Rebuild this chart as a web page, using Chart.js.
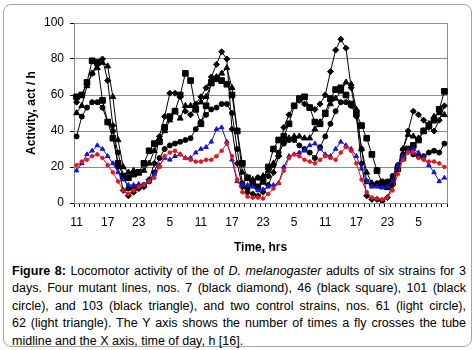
<!DOCTYPE html>
<html>
<head>
<meta charset="utf-8">
<script src="https://cdn.jsdelivr.net/npm/chart.js@4/dist/chart.umd.min.js"></script>
<style>
  body { margin: 0; background: #fff; font-family: "Liberation Sans", Arial, sans-serif; }
  #frame { position: absolute; left: 3px; top: 4px; width: 467px; height: 341px; border: 1px solid #a6a6a6; border-radius: 8px; }
  #plot { position: absolute; left: 0; top: 0; }
  #cap { position: absolute; left: 8px; top: 258px; width: 454px; font-size: 12.5px; line-height: 17.4px; color: #000; }
  #cap div { white-space: nowrap; text-align: justify; text-align-last: justify; }
  #cap div.last { text-align: left; text-align-last: left; }
</style>
</head>
<body>
<div id="frame">
  <canvas id="plot" width="467" height="258"></canvas>
  <div id="cap">
    <div><b>Figure 8:</b> Locomotor activity of the of <i>D. melanogaster</i> adults of six strains for 3</div>
    <div>days. Four mutant lines, nos. 7 (black diamond), 46 (black square), 101 (black</div>
    <div>circle), and 103 (black triangle), and two control strains, nos. 61 (light circle),</div>
    <div>62 (light triangle). The Y axis shows the number of times a fly crosses the tube</div>
    <div class="last">midline and the X axis, time of day, h [16].</div>
  </div>
</div>
<script>
// hour of day for each hourly reading, 3 days from 11 h
const hours = [11,12,13,14,15,16,17,18,19,20,21,22,23,0,1,2,3,4,5,6,7,8,9,10,
               11,12,13,14,15,16,17,18,19,20,21,22,23,0,1,2,3,4,5,6,7,8,9,10,
               11,12,13,14,15,16,17,18,19,20,21,22,23,0,1,2,3,4,5,6,7,8,9,10];

// activity, act / h
const line7 = [56,60,66,72,78,80,68,43,20,7,4,6, 8,9,13,22,37,48,61,61,59,51,49,55,
               59,64,70,77,84,80,41,22,9,6,5,4, 6,10,17,26,42,49,54,57,55,53,52,55,
               60,73,85,91,86,64,48,22,4,2,2,1, 3,10,19,30,40,51,49,46,42,40,46,54];
const line46 = [59,60,67,79,78,57,45,36,22,15,14,16, 17,22,29,33,34,42,48,51,60,72,68,52,
                44,54,67,69,68,66,60,40,22,14,11,9, 12,20,30,35,37,44,54,58,59,53,45,44,
                50,58,63,64,60,55,50,43,36,27,18,11, 9,12,19,25,30,32,35,40,43,46,52,62];
const line101 = [37,48,53,56,56,53,45,40,28,15,8,8, 9,10,12,17,25,30,32,33,34,35,36,41,
                 45,49,52,53,55,55,50,30,11,8,12,14, 14,15,21,28,33,35,35,32,30,28,25,31,
                 37,44,51,56,56,54,49,30,12,10,11,12, 12,15,21,27,29,27,26,26,28,29,28,33];
const line103 = [50,54,65,72,75,78,76,59,35,20,17,18, 17,18,22,29,36,40,46,51,47,54,54,54,
                 56,59,66,70,72,75,64,40,17,14,13,14, 15,18,22,27,34,36,37,37,36,36,41,45,
                 49,55,58,62,67,66,52,30,17,11,10,9, 10,11,20,30,38,37,36,40,44,48,50,49];
const line61 = [21,23,24,26,27,25,21,17,12,7,5,7, 9,10,12,14,20,26,28,29,27,25,24,23,
                23,24,24,26,29,33,26,13,6,3.5,3,3, 2.5,5,8,11,18,25,27,26,24,23,22,24,
                26,25,24,28,31,29,22,13,6,3,2.5,2, 3,7,16,24,28,28,25,24,23,23,22,20];
const line62 = [18,22,27,29,32,30,26,22,17,13,10,10, 10.5,10,12,16,21,25,24,26,27,25,25,28,
                30,31,34,41,42,34,24,12,10,10,9,7, 7.5,9,10,11,20,26,27,28,29,32,33,30,
                27,26,30,34,32,30,26,19,12,9,9,8.5, 9,12,21,26,29,30,28,25,21,17,12,14];

function series(data, color, shape, r) {
  return {
    data, borderColor: color, backgroundColor: color, borderWidth: 1,
    pointStyle: shape, pointRadius: r, pointHoverRadius: r, pointBorderWidth: 1,
    tension: 0
  };
}

// grey frame round the plot area
const plotFrame = {
  id: 'plotFrame',
  beforeDatasetsDraw(chart) {
    const a = chart.chartArea, ctx = chart.ctx;
    ctx.save();
    ctx.strokeStyle = '#8c8c8c';
    ctx.lineWidth = 1;
    ctx.strokeRect(a.left + 0.5, a.top + 0.5, a.right - a.left, a.bottom - a.top);
    ctx.restore();
  }
};

const font = { family: '"Liberation Sans", Arial, sans-serif', size: 12 };

new Chart(document.getElementById('plot'), {
  type: 'line',
  data: {
    labels: hours,
    datasets: [
      series(line61, '#e8141e', 'circle', 1.8),
      series(line62, '#1414d8', 'triangle', 2.6),
      series(line7, '#000', 'rectRot', 3),
      series(line46, '#000', 'rect', 4),
      series(line101, '#000', 'circle', 2.5),
      series(line103, '#000', 'triangle', 3.4)
    ]
  },
  options: {
    responsive: false,
    animation: false,
    events: [],
    layout: { padding: { left: 0, right: 24, top: 18, bottom: 0 } },
    plugins: { legend: { display: false }, tooltip: { enabled: false } },
    scales: {
      x: {
        offset: true,
        afterFit(s) { s.height = 60; },
        grid: { offset: true, drawOnChartArea: false, tickLength: 4, tickColor: '#000' },
        border: { color: '#000' },
        ticks: {
          autoSkip: false, maxRotation: 0, padding: 8, color: '#000', font,
          callback(v, i) { return i % 6 === 0 ? String(hours[i]) : ''; }
        },
        title: { display: true, text: 'Time, hrs', color: '#000',
                 font: { ...font, weight: 'bold' }, padding: { top: 0, bottom: 8 } }
      },
      y: {
        min: 0, max: 100,
        afterFit(s) { s.width = 70; },
        grid: { color: '#8c8c8c', tickLength: 4, tickColor: '#000' },
        border: { color: '#000' },
        ticks: { stepSize: 20, padding: 6, color: '#000', font },
        title: { display: true, text: 'Activity, act / h', color: '#000',
                 font: { ...font, weight: 'bold' }, padding: { top: 20, bottom: 0 } }
      }
    }
  },
  plugins: [plotFrame]
});
</script>
</body>
</html>
